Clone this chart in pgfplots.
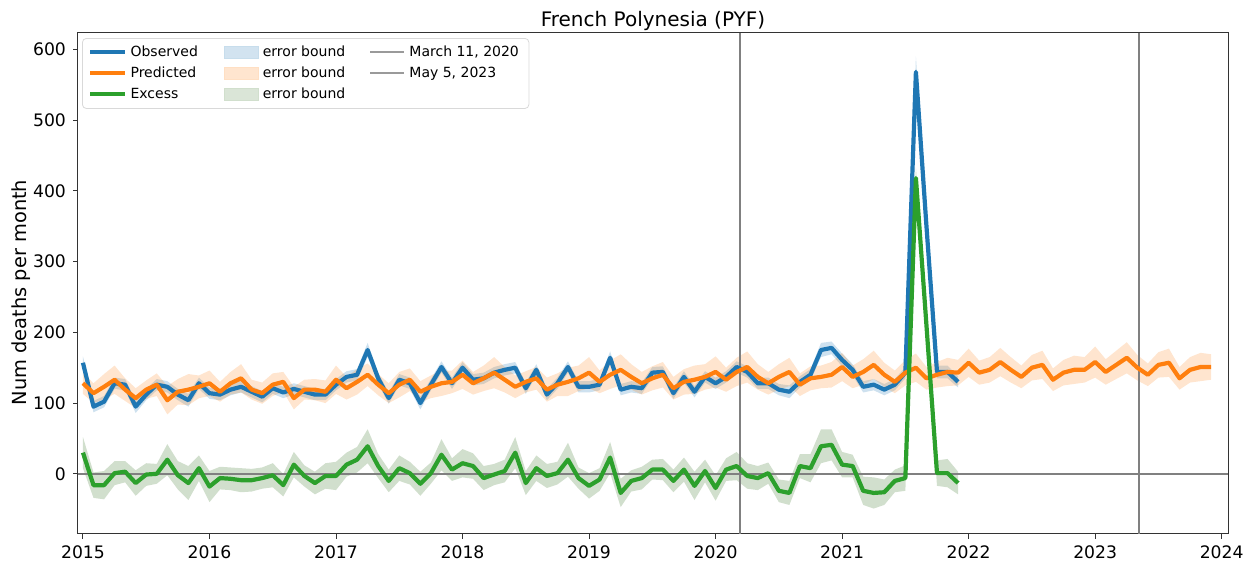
\documentclass[border=0pt]{standalone}
\usepackage{fontspec}
\setmainfont{DejaVu Sans}
\usepackage{pgfplots}
\pgfplotsset{compat=1.18}
\usepackage{pgfplotstable}
\usepgfplotslibrary{fillbetween}
\definecolor{cblue}{HTML}{1F77B4}
\definecolor{corange}{HTML}{FF7F0E}
\definecolor{cgreen}{HTML}{2CA02C}
\definecolor{bgreen}{RGB}{140,175,130}
\definecolor{vgray}{RGB}{128,128,128}

\pgfplotstableread{
m obs oe exc ee
0 157 9 30 22
1 95 8 -16 18
2 102 8 -16 20
3 128 8 1 17
4 126 8 3 15
5 95 9 -13 18
6 112 8 -1 16
7 126 8 0 14
8 123 8 20 22
9 112 8 -2 20
10 104 9 -13 24
11 128 8 8 18
12 114 8 -18 22
13 112 8 -6 16
14 119 8 -7 16
15 123 8 -9 17
16 116 8 -9 16
17 109 8 -6 15
18 121 8 -2 17
19 115 8 -16 16
20 120 8 13 18
21 116 8 -3 15
22 112 8 -13 16
23 112 8 -3 18
24 126 8 -3 20
25 137 8 13 17
26 140 8 20 18
27 175 10 39 24
28 135 8 11 17
29 107 8 -10 16
30 133 8 8 18
31 128 8 1 16
32 100 9 -14 17
33 126 8 1 15
34 151 8 27 22
35 128 8 6 16
36 150 8 15 20
37 133 8 11 18
38 135 8 -6 17
39 143 8 -1 15
40 147 8 4 16
41 150 8 30 22
42 121 8 -13 17
43 147 8 8 18
44 112 8 -3 17
45 128 8 1 16
46 151 8 20 24
47 123 8 -6 15
48 123 8 -17 18
49 126 8 -8 16
50 164 9 23 22
51 119 8 -27 20
52 123 8 -10 15
53 121 8 -6 16
54 143 8 6 14
55 144 8 6 15
56 114 8 -10 16
57 137 8 6 17
58 116 8 -17 20
59 137 8 4 16
60 128 8 -20 18
61 137 8 6 16
62 151 8 11 20
63 144 8 -3 18
64 128 8 -6 17
65 128 8 1 15
66 119 8 -24 16
67 116 9 -27 17
68 130 8 11 17
69 140 8 8 20
70 175 10 39 24
71 178 9 41 22
72 161 9 13 18
73 147 8 11 16
74 123 8 -24 20
75 126 8 -27 22
76 119 8 -26 18
77 126 8 -10 16
78 143 8 -6 18
79 568 22 418 15
80 350 14 210 15
81 144 9 1 18
82 144 9 1 20
83 130 8 -13 16
}\obsdata

\pgfplotstableread{
m pred pe
0 128 15
1 114 14
2 123 18
3 133 20
4 119 16
5 107 14
6 119 13
7 126 16
8 104 20
9 116 18
10 119 22
11 123 16
12 128 18
13 116 14
14 128 16
15 135 20
16 119 14
17 114 15
18 126 16
19 130 14
20 107 16
21 119 14
22 119 15
23 116 16
24 133 20
25 121 16
26 130 18
27 140 16
28 126 15
29 114 14
30 126 18
31 133 16
32 116 15
33 123 16
34 128 18
35 130 16
36 140 20
37 128 16
38 135 18
39 143 22
40 133 18
41 123 16
42 130 15
43 135 16
44 119 17
45 126 16
46 130 20
47 135 18
48 143 22
49 130 16
50 140 20
51 147 22
52 137 18
53 128 16
54 135 17
55 140 18
56 121 16
57 130 18
58 133 20
59 137 18
60 144 22
61 133 17
62 144 20
63 151 22
64 137 18
65 128 16
66 137 18
67 144 20
68 126 16
69 135 17
70 137 16
71 140 18
72 151 20
73 137 16
74 144 18
75 154 20
76 140 17
77 130 16
78 143 18
79 150 20
80 135 16
81 140 18
82 144 20
83 143 18
84 157 20
85 143 17
86 147 18
87 158 20
88 147 18
89 137 16
90 150 18
91 154 20
92 133 16
93 143 18
94 147 20
95 147 18
96 158 22
97 144 18
98 154 20
99 164 22
100 150 18
101 140 16
102 154 18
103 157 20
104 135 16
105 147 18
106 151 20
107 151 18
}\preddata

\begin{document}
\begin{tikzpicture}
\begin{axis}[
  scale only axis, width=575pt, height=250.5pt,
  xmin=-0.47, xmax=108.6, ymin=-85, ymax=623,
  xtick={0,12,24,36,48,60,72,84,96,108},
  xticklabels={2015,2016,2017,2018,2019,2020,2021,2022,2023,2024},
  ytick={0,100,200,300,400,500,600},
  /pgf/number format/assume math mode=true,
  tick align=outside, tick pos=left, major tick length=2.5pt,
  tick style={black!80, line width=0.5pt},
  tick label style={font=\fontsize{8.6}{10}\selectfont},
  axis line style={black!80, line width=0.5pt},
  ylabel={Num deaths per month},
  every axis y label/.style={at={(axis description cs:-0.0496,0.482)}, anchor=center, rotate=90, font=\fontsize{9.7}{11}\selectfont},
  title={French Polynesia (PYF)},
  every axis title/.style={at={(axis description cs:0.5,1)}, anchor=base, yshift=3pt, font=\fontsize{10}{12}\selectfont},
  legend columns=3,
  legend cell align=left,
  legend style={at={(axis description cs:0.0035,0.99)}, anchor=north west,
    draw=black!15, rounded corners=2pt, fill=white, fill opacity=0.8, text opacity=1,
    font=\fontsize{7}{8}\selectfont, row sep=0.5pt,
    nodes={inner ysep=1.6pt}},
]
% reference lines
\addplot[vgray, line width=0.8pt, forget plot] coordinates {(62.33,-85) (62.33,623)};
\addplot[vgray, line width=0.8pt, forget plot] coordinates {(100.13,-85) (100.13,623)};
\addplot[vgray, line width=0.8pt, forget plot] coordinates {(-0.47,0) (108.6,0)};

% bands
\addplot[name path=ou, draw=none, forget plot] table[x=m, y expr=\thisrow{obs}+\thisrow{oe}]{\obsdata};
\addplot[name path=ol, draw=none, forget plot] table[x=m, y expr=\thisrow{obs}-\thisrow{oe}]{\obsdata};
\addplot[fill=cblue, fill opacity=0.22, draw=none, forget plot] fill between[of=ou and ol];
\addplot[name path=pu, draw=none, forget plot] table[x=m, y expr=\thisrow{pred}+\thisrow{pe}]{\preddata};
\addplot[name path=pl, draw=none, forget plot] table[x=m, y expr=\thisrow{pred}-\thisrow{pe}]{\preddata};
\addplot[fill=corange, fill opacity=0.2, draw=none, forget plot] fill between[of=pu and pl];
\addplot[name path=eu, draw=none, forget plot] table[x=m, y expr=\thisrow{exc}+\thisrow{ee}]{\obsdata};
\addplot[name path=el, draw=none, forget plot] table[x=m, y expr=\thisrow{exc}-\thisrow{ee}]{\obsdata};
\addplot[fill=bgreen, fill opacity=0.4, draw=none, forget plot] fill between[of=eu and el];

% lines
\addplot[cblue, line width=2.1pt, line join=round, forget plot] table[x=m, y=obs]{\obsdata};
\addplot[corange, line width=2.1pt, line join=round, forget plot] table[x=m, y=pred]{\preddata};
\addplot[cgreen, line width=2.1pt, line join=round, forget plot] table[x=m, y=exc]{\obsdata};

% legend (row-wise order to mimic column-wise matplotlib legend)
\addlegendimage{cblue, line width=2pt}
\addlegendentry{Observed\hspace*{11pt}\mbox{}}
\addlegendimage{legend image code/.code={\fill[cblue!25, sharp corners] (0cm,-0.1cm) rectangle (0.6cm,0.1cm);}}
\addlegendentry{error bound\hspace*{10pt}\mbox{}}
\addlegendimage{vgray!80, line width=1pt}
\addlegendentry{March 11, 2020}
\addlegendimage{corange, line width=2pt}
\addlegendentry{Predicted\hspace*{11pt}\mbox{}}
\addlegendimage{legend image code/.code={\fill[corange!25, sharp corners] (0cm,-0.1cm) rectangle (0.6cm,0.1cm);}}
\addlegendentry{error bound\hspace*{10pt}\mbox{}}
\addlegendimage{vgray!80, line width=1pt}
\addlegendentry{May 5, 2023}
\addlegendimage{cgreen, line width=2pt}
\addlegendentry{Excess\hspace*{11pt}\mbox{}}
\addlegendimage{legend image code/.code={\fill[bgreen!40, sharp corners] (0cm,-0.1cm) rectangle (0.6cm,0.1cm);}}
\addlegendentry{error bound\hspace*{10pt}\mbox{}}
\addlegendimage{empty legend}
\addlegendentry{}
\end{axis}
\pgfresetboundingbox
\path[use as bounding box] (-39pt,-15.5pt) rectangle (590.5pt,267pt);
\end{tikzpicture}
\end{document}
